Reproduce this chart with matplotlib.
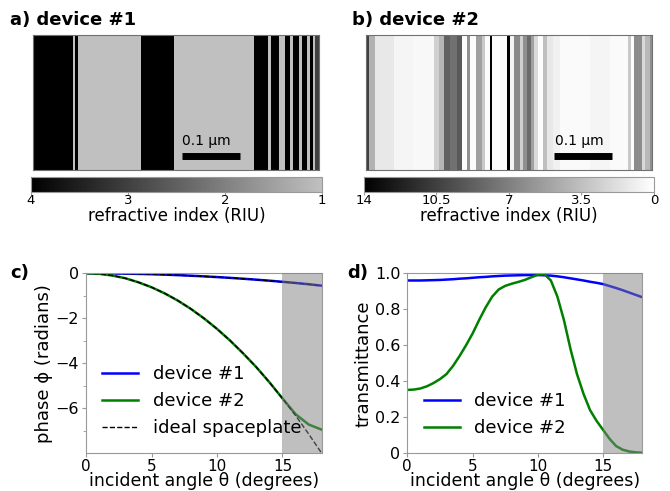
import numpy as np
import matplotlib
matplotlib.use('Agg')
import matplotlib.pyplot as plt
from matplotlib.colors import LinearSegmentedColormap, Normalize

# ---- layer stacks (thickness in nm, refractive index in RIU) ----
dev1_thick = [69.0, 4.5, 5.0, 107.6, 57.4, 136.7, 24.0, 5.9, 13.0, 10.3,
              9.8, 4.6, 9.7, 5.9, 8.6, 5.7, 4.6, 4.0, 5.7]
dev1_index = [4, 1, 4, 1, 4, 1, 4, 1, 4, 1,
              4, 1, 4, 1, 4, 1, 4, 1, 3]

dev2_thick = [4.7, 10.5, 33.2, 33.7, 36.1, 8.7, 8.7, 11.5, 11.7, 8.2,
              9.8, 4.7, 10.5, 9.9, 5.8, 8.7, 4.0, 25.1, 5.8, 7.0,
              10.5, 5.8, 5.9, 7.0, 5.8, 7.5, 8.7, 7.0, 9.9, 12.2,
              52.4, 34.9, 31.4, 4.7, 5.8, 14.0, 5.8, 7.7, 4.0]
dev2_index = [10.5, 4.3, 1.3, 0.6, 0.4, 2.6, 4.1, 8.7, 7.8, 9.1,
              0.2, 6.1, 0.2, 5.2, 3.0, 0.2, 14.0, 0.2, 14.0, 0.6,
              6.4, 2.6, 6.1, 8.2, 5.2, 2.1, 0.2, 3.5, 1.3, 0.8,
              0.3, 0.6, 0.3, 3.0, 0.2, 6.3, 2.1, 3.9, 6.1]

scalebar_start = [256, 329]  # nm

# ---- angular response ----
theta = [0, 1, 2, 3, 4, 5, 6, 7, 8, 9, 10, 11, 12, 13, 14, 15, 16, 17, 18]
phase_dev1 = [0, -0.002, -0.007, -0.015, -0.027, -0.042, -0.06, -0.082, -0.108, -0.136,
              -0.168, -0.203, -0.242, -0.284, -0.329, -0.378, -0.43, -0.486, -0.55]
phase_dev2 = [0, -0.025, -0.099, -0.22, -0.40, -0.62, -0.89, -1.21, -1.58, -2.0,
              -2.47, -2.99, -3.56, -4.17, -4.84, -5.56, -6.26, -6.72, -6.95]
ideal_dev1 = [0, -0.002, -0.007, -0.015, -0.027, -0.042, -0.06, -0.082, -0.108, -0.137,
              -0.169, -0.205, -0.244, -0.286, -0.332, -0.381, -0.434, -0.49, -0.56]
ideal_dev2 = [0, -0.025, -0.099, -0.22, -0.40, -0.62, -0.89, -1.21, -1.58, -2.0,
              -2.47, -2.99, -3.56, -4.17, -4.84, -5.56, -6.32, -7.14, -8.0]

theta_t = [0, 0.5, 1, 1.5, 2, 2.5, 3, 3.5, 4, 4.5, 5, 5.5, 6, 6.5, 7, 7.5, 8, 8.5, 9,
           9.5, 10, 10.5, 11, 11.5, 12, 12.5, 13, 13.5, 14, 14.5, 15, 15.5, 16, 16.5,
           17, 17.5, 18]
trans_dev1 = [0.96, 0.96, 0.96, 0.961, 0.962, 0.963, 0.965, 0.967, 0.97, 0.972, 0.975,
              0.978, 0.98, 0.983, 0.985, 0.987, 0.988, 0.989, 0.99, 0.99, 0.99, 0.989,
              0.987, 0.983, 0.978, 0.972, 0.966, 0.96, 0.953, 0.947, 0.94, 0.929,
              0.918, 0.906, 0.893, 0.88, 0.867]
trans_dev2 = [0.352, 0.354, 0.36, 0.372, 0.39, 0.412, 0.44, 0.485, 0.54, 0.6, 0.665,
              0.74, 0.81, 0.87, 0.91, 0.93, 0.942, 0.952, 0.963, 0.978, 0.992, 0.995,
              0.96, 0.87, 0.74, 0.58, 0.44, 0.33, 0.24, 0.18, 0.13, 0.08, 0.04, 0.02,
              0.01, 0.005, 0.003]

spine_col = '#999999'

fig = plt.figure(figsize=(6.7, 4.91), dpi=100)


def layer_panel(ax_rect, cax_rect, thick, index, cmap, norm, ticks, ticklabels, bar_x0):
    ax = fig.add_axes(ax_rect)
    edges = np.concatenate([[0], np.cumsum(thick)])
    mesh = ax.pcolormesh(edges, [0, 1], np.array(index, dtype=float)[None, :],
                         cmap=cmap, norm=norm)
    ax.set_xlim(0, edges[-1])
    ax.set_ylim(0, 1)
    ax.set_xticks([])
    ax.set_yticks([])
    for s in ax.spines.values():
        s.set_color('#707070')
        s.set_linewidth(0.8)
    ax.plot([bar_x0, bar_x0 + 100], [0.104, 0.104], color='black', lw=5,
            solid_capstyle='butt')
    ax.text(bar_x0 + 1, 0.16, '0.1 µm', fontsize=10, ha='left', va='bottom')

    cax = fig.add_axes(cax_rect)
    cb = fig.colorbar(mesh, cax=cax, orientation='horizontal')
    cax.invert_xaxis()
    cb.set_ticks(ticks)
    cb.set_ticklabels(ticklabels)
    cax.tick_params(labelsize=9.5, length=2, pad=0, color=spine_col)
    cb.outline.set_edgecolor(spine_col)
    cb.set_label('refractive index (RIU)', fontsize=12, labelpad=0)
    return ax


cmap1 = LinearSegmentedColormap.from_list('riu1', ['#c0c0c0', 'black'])
layer_panel([0.0488, 0.6538, 0.4269, 0.2749], [0.0463, 0.6096, 0.4339, 0.0305],
            dev1_thick, dev1_index, cmap1, Normalize(1, 4),
            [4, 3, 2, 1], ['4', '3', '2', '1'], scalebar_start[0])
layer_panel([0.5463, 0.6538, 0.4269, 0.2749], [0.5428, 0.6096, 0.4333, 0.0305],
            dev2_thick, dev2_index, 'gray_r', Normalize(0, 14),
            [14, 10.5, 7, 3.5, 0], ['14', '10.5', '7', '3.5', '0'], scalebar_start[1])

fig.text(10 / 670, 1 - 25 / 491, 'a) device #1', fontsize=13, fontweight='bold',
         va='baseline')
fig.text(352 / 670, 1 - 25 / 491, 'b) device #2', fontsize=13, fontweight='bold',
         va='baseline')


def style_axes(ax):
    for s in ax.spines.values():
        s.set_color(spine_col)
    ax.tick_params(which='both', color=spine_col, labelsize=11.5, pad=2)
    ax.tick_params(axis='x', pad=1, labelsize=11)
    ax.tick_params(which='major', length=3)
    ax.tick_params(which='minor', length=2)


# ---- c) phase ----
axc = fig.add_axes([0.1284, 0.0768, 0.3518, 0.3666])
axc.plot(theta, phase_dev1, color='blue', lw=1.8, label='device #1')
axc.plot(theta, phase_dev2, color='green', lw=1.8, label='device #2')
axc.plot(theta, ideal_dev1, color='black', lw=1, ls='--', label='ideal spaceplate')
axc.plot(theta, ideal_dev2, color='black', lw=1, ls='--')
axc.axvspan(15, 18, color='gray', alpha=0.5, lw=0, zorder=3)
axc.set_xlim(0, 18)
axc.set_ylim(-8, 0)
axc.set_xticks([0, 5, 10, 15])
axc.set_yticks([0, -2, -4, -6])
axc.set_yticks([-1, -3, -5, -7], minor=True)
axc.set_xlabel('incident angle θ (degrees)', fontsize=12.5, labelpad=-1)
axc.set_ylabel('phase ϕ (radians)', fontsize=13, labelpad=2)
axc.legend(frameon=False, fontsize=13, loc='lower left')
style_axes(axc)

# ---- d) transmittance ----
axd = fig.add_axes([0.6079, 0.0768, 0.3507, 0.3666])
axd.plot(theta_t, trans_dev1, color='blue', lw=1.8, label='device #1')
axd.plot(theta_t, trans_dev2, color='green', lw=1.8, label='device #2')
axd.axvspan(15, 18, color='gray', alpha=0.5, lw=0, zorder=3)
axd.set_xlim(0, 18)
axd.set_ylim(0, 1)
axd.set_xticks([0, 5, 10, 15])
axd.set_yticks([0, 0.2, 0.4, 0.6, 0.8, 1.0])
axd.set_yticklabels(['0', '0.2', '0.4', '0.6', '0.8', '1.0'])
axd.set_xlabel('incident angle θ (degrees)', fontsize=12.5, labelpad=-1)
axd.set_ylabel('transmittance', fontsize=13, labelpad=2)
axd.legend(frameon=False, fontsize=13, loc='lower left')
style_axes(axd)

fig.text(10 / 670, 1 - 278 / 491, 'c)', fontsize=13, fontweight='bold', va='baseline')
fig.text(347 / 670, 1 - 278 / 491, 'd)', fontsize=13, fontweight='bold', va='baseline')

fig.savefig('out.png', dpi=100)
